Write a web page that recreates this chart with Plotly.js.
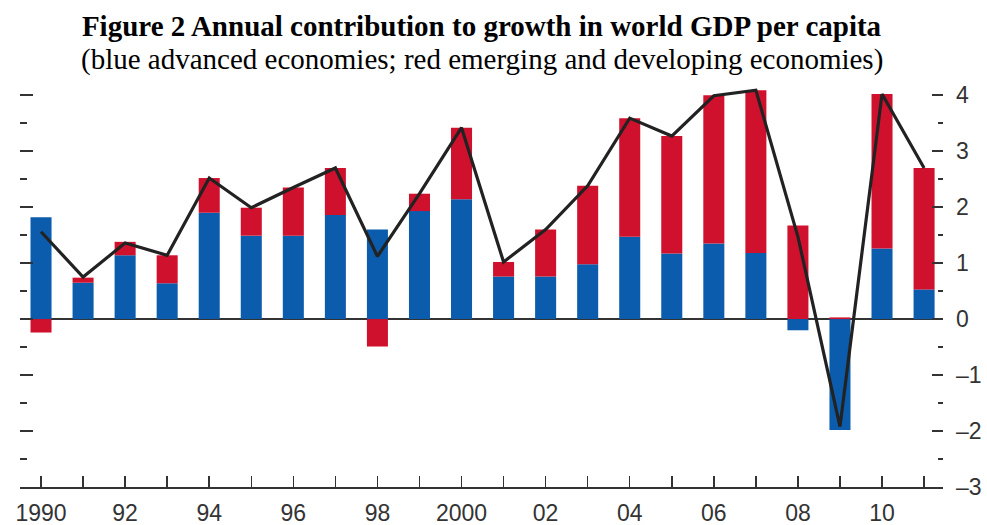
<!DOCTYPE html>
<html>
<head>
<meta charset="utf-8">
<script src="https://cdn.plot.ly/plotly-3.0.1.min.js"></script>
<style>html,body{margin:0;padding:0;background:#fff;}#chart{width:987px;height:525px;}</style>
</head>
<body>
<div id="chart"></div>
<script>
const years = [1990,1991,1992,1993,1994,1995,1996,1997,1998,1999,2000,2001,2002,2003,2004,2005,2006,2007,2008,2009,2010,2011];
const advanced = [1.82,0.65,1.14,0.64,1.90,1.49,1.49,1.86,1.60,1.93,2.14,0.76,0.76,0.98,1.47,1.17,1.35,1.18,-0.20,-1.98,1.26,0.53];
const emerging = [-0.24,0.09,0.24,0.50,0.62,0.50,0.86,0.84,-0.49,0.31,1.28,0.26,0.84,1.40,2.12,2.10,2.65,2.91,1.67,0.03,2.76,2.17];
const world = [1.56,0.75,1.36,1.14,2.52,1.99,2.35,2.70,1.12,2.24,3.42,1.02,1.60,2.38,3.59,3.27,3.99,4.09,1.47,-1.92,4.02,2.70];
const xTickText = ["1990","","92","","94","","96","","98","","2000","","02","","04","","06","","08","","10",""];
const yTickVals = [4,3,2,1,0,-1,-2,-3];
const yTickText = ["4","3","2","1","0","\u20131","\u20132","\u20133"];
const titleText = "<b>Figure 2 Annual contribution to growth in world GDP per capita</b>";
const subtitleText = "(blue advanced economies; red emerging and developing economies)";

const yRange = [-3, 4.2];
const axisFont = {family: "'Liberation Sans Narrow', 'Arial Narrow', 'Liberation Sans', sans-serif", size: 23, color: "#333"};
const serif = "'Liberation Serif', 'Times New Roman', serif";

const traces = [
  {type: 'bar', x: years, y: advanced, width: 0.5, marker: {color: '#0b5cad'}, name: 'Advanced'},
  {type: 'bar', x: years, y: emerging, width: 0.5, marker: {color: '#d0112e'}, name: 'Emerging'},
  {type: 'scatter', mode: 'lines', x: years, y: world, yaxis: 'y2', line: {color: '#222', width: 3.2}, name: 'World'}
];

const layout = {
  width: 987, height: 525,
  margin: {l: 20, r: 44, t: 84, b: 38},
  paper_bgcolor: '#fff', plot_bgcolor: '#fff',
  showlegend: false,
  barmode: 'relative',
  title: {
    text: titleText,
    font: {family: serif, size: 29, color: '#000'},
    x: 0.5, xanchor: 'center', xref: 'paper',
    y: 0.951, yanchor: 'middle', yref: 'container'
  },
  annotations: [{
    text: subtitleText, showarrow: false,
    xref: 'paper', yref: 'paper', x: 0.5, xanchor: 'center', y: 1.06, yanchor: 'middle',
    font: {family: serif, size: 29, color: '#000'}
  }],
  xaxis: {
    range: [1989.5, 2011.45],
    tickmode: 'array', tickvals: years, ticktext: xTickText,
    ticks: 'inside', ticklen: 11, tickwidth: 1.5, tickcolor: '#333',
    showline: true, linecolor: '#333', linewidth: 2,
    showgrid: false, zeroline: false,
    tickfont: axisFont, ticklabelstandoff: 4, fixedrange: true
  },
  yaxis: {
    range: yRange, side: 'left',
    tickmode: 'array', tickvals: yTickVals, showticklabels: false,
    ticks: 'inside', ticklen: 13, tickwidth: 2, tickcolor: '#333',
    minor: {dtick: 0.5, tick0: 0, ticks: 'inside', ticklen: 7, tickwidth: 2, tickcolor: '#333', showgrid: false},
    showgrid: false, showline: false,
    zeroline: true, zerolinecolor: '#333', zerolinewidth: 2,
    fixedrange: true
  },
  yaxis2: {
    range: yRange, side: 'right', overlaying: 'y',
    tickmode: 'array', tickvals: yTickVals, ticktext: yTickText,
    ticks: 'inside', ticklen: 11, tickwidth: 2, tickcolor: '#333',
    minor: {dtick: 0.5, tick0: 0, ticks: 'inside', ticklen: 5, tickwidth: 2, tickcolor: '#333', showgrid: false},
    showgrid: false, showline: false, zeroline: false,
    tickfont: axisFont, ticklabelstandoff: 12,
    fixedrange: true
  }
};

Plotly.newPlot('chart', traces, layout, {displayModeBar: false, staticPlot: true});
</script>
</body>
</html>
